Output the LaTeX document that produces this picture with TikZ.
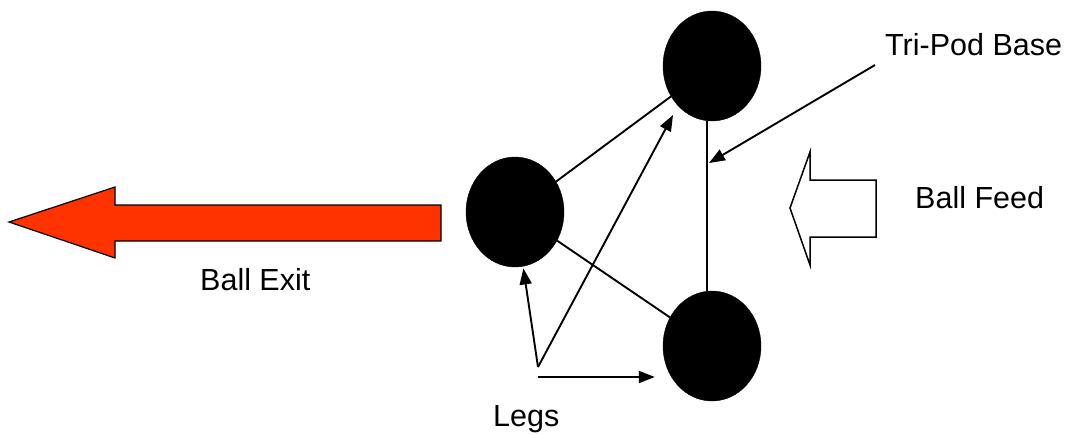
\documentclass[tikz,border=0pt]{standalone}
\usepackage{fontspec}
\setmainfont{Liberation Sans}
\usetikzlibrary{shapes.geometric,arrows.meta}
\definecolor{exitred}{HTML}{FF3300}
\tikzset{
  ball/.style={ellipse,fill=black,draw=black,minimum width=98pt,minimum height=110pt,inner sep=0pt},
  link/.style={line width=1.9pt},
  pointer/.style={line width=1.9pt,-{Triangle[length=16pt,width=12pt]}},
  lbl/.style={anchor=base west,inner sep=0pt,font=\fontsize{30.5}{36}\selectfont},
}
\begin{document}
\begin{tikzpicture}[x=1pt,y=-1pt]
\useasboundingbox (0,0) rectangle (1066,434);
% balls
\node[ball] (T) at (712,66) {};
\node[ball] (L) at (515,212) {};
\node[ball] (B) at (712,346) {};
% tripod links
\draw[link] (L) -- (T);
\draw[link] (L) -- (B);
\draw[link] ([xshift=-5pt]T.south) -- ([xshift=-5pt]B.north);
% labels
\node[lbl] (tpb) at (885,55) {Tri-Pod Base};
\node[lbl] (feed) at (915,208) {Ball Feed};
\node[lbl] (exit) at (200,290) {Ball Exit};
\node[lbl] (legs) at (493,426) {Legs};
% legs pointers
\coordinate (lg) at (538,367);
\coordinate (lg2) at (538,377);
\coordinate (tend) at (673,115);
\coordinate (tpend) at (709,163);
\coordinate (tpstart) at (875,65);
\draw[pointer,shorten >=2pt] (lg) -- (L);
\draw[pointer] (lg) -- (tend);
\draw[pointer,shorten >=8pt] (lg2) -- (lg2 -| B.west);
\draw[pointer] (tpstart) -- (tpend);
% exit arrow
\draw[fill=exitred,draw=black,line width=1.2pt,line join=miter]
  (441,205) -- (115,205) -- (115,187) -- (9,222) -- (115,258) -- (115,241) -- (441,241) -- cycle;
% feed arrow
\draw[fill=white,draw=black,line width=1.5pt,line join=miter]
  (876,180) -- (810,180) -- (810,152) -- (790,208) -- (810,265) -- (810,237) -- (876,237) -- cycle;
\end{tikzpicture}
\end{document}
